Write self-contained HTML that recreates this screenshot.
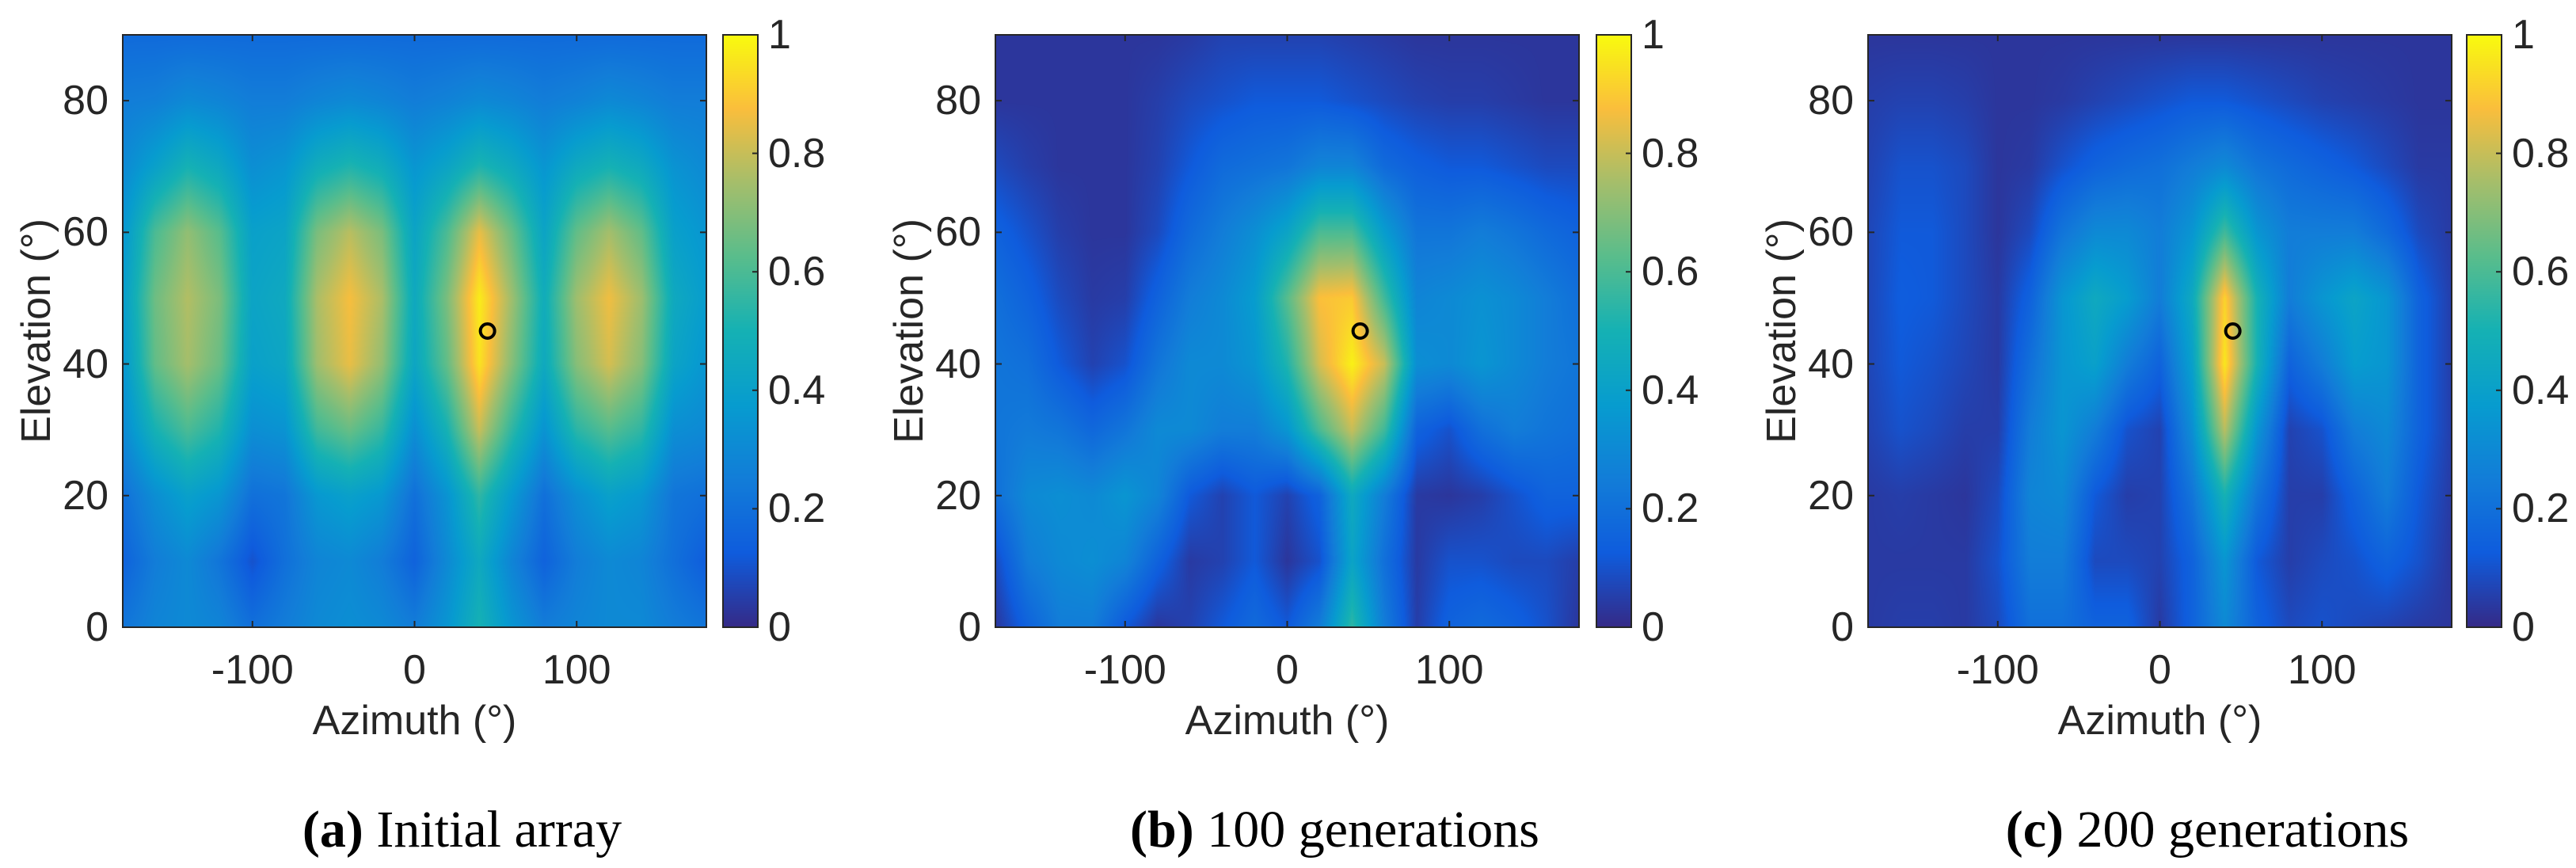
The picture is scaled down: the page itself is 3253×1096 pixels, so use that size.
<!DOCTYPE html>
<html><head><meta charset="utf-8">
<style>
html,body{margin:0;padding:0;background:#fff;}
#root{position:relative;width:3253px;height:1096px;overflow:hidden;background:#fff;}
canvas{position:absolute;}
.t{position:absolute;font-family:"Liberation Sans",sans-serif;font-size:52px;color:#262626;white-space:nowrap;line-height:1;}
.cap{position:absolute;font-family:"Liberation Serif",serif;font-size:66px;color:#000;white-space:nowrap;line-height:1;}
svg{position:absolute;left:0;top:0;}
</style></head>
<body>
<div id="root">
<svg id="ov" width="3253" height="1096"></svg>
</div>
<script>
const azCats=[-180,-160,-140,-120,-100,-80,-60,-40,-20,0,20,40,60,80,100,120,140,160,180];
const elCats=[90,80,70,60,50,40,30,20,10,0];
const xTicks=[-100,0,100];
const yTicks=[0,20,40,60,80];
const cTicks=[0,0.2,0.4,0.6,0.8,1];
const cTickLabels=["0","0.2","0.4","0.6","0.8","1"];
const targetAz=45, targetEl=45;
const gridA=[
[.18,.18,.18,.18,.18,.18,.18,.18,.18,.18,.18,.18,.18,.18,.18,.18,.18,.18,.18],
[.25,.26,.3,.28,.25,.25,.28,.3,.28,.25,.27,.3,.28,.25,.27,.3,.28,.25,.25],
[.3,.4,.5,.44,.32,.35,.47,.52,.47,.35,.42,.52,.45,.35,.45,.5,.45,.34,.3],
[.35,.6,.72,.62,.4,.42,.68,.78,.68,.42,.6,.85,.65,.42,.64,.75,.64,.4,.35],
[.38,.66,.77,.68,.42,.45,.76,.87,.76,.45,.68,.97,.74,.47,.74,.86,.74,.45,.38],
[.35,.64,.75,.65,.4,.43,.74,.85,.72,.43,.64,.95,.7,.45,.7,.82,.7,.42,.35],
[.3,.5,.6,.52,.32,.34,.58,.65,.56,.32,.5,.8,.55,.34,.54,.62,.55,.32,.3],
[.2,.32,.4,.35,.2,.22,.36,.4,.36,.2,.34,.55,.37,.2,.32,.4,.36,.22,.2],
[.15,.25,.3,.22,.1,.2,.28,.3,.25,.15,.3,.45,.28,.15,.25,.3,.28,.2,.13],
[.22,.28,.3,.28,.2,.25,.3,.32,.3,.25,.35,.5,.35,.25,.28,.3,.3,.25,.22]];
const gridB=[
[.03,.03,.03,.03,.03,.03,.04,.06,.06,.06,.06,.05,.04,.03,.03,.03,.03,.03,.03],
[.03,.03,.03,.03,.03,.05,.08,.1,.12,.12,.12,.1,.08,.06,.05,.05,.04,.03,.03],
[.08,.05,.03,.03,.03,.06,.12,.18,.2,.22,.28,.28,.18,.14,.12,.12,.1,.08,.08],
[.15,.1,.05,.03,.03,.08,.18,.25,.32,.42,.6,.6,.38,.22,.22,.25,.22,.18,.15],
[.2,.15,.08,.04,.05,.15,.25,.3,.38,.62,.88,.9,.58,.28,.3,.33,.3,.25,.2],
[.22,.2,.12,.06,.1,.22,.3,.3,.35,.52,.82,.98,.8,.32,.3,.35,.3,.25,.22],
[.22,.24,.22,.17,.22,.3,.3,.25,.25,.35,.6,.8,.58,.15,.1,.2,.25,.22,.2],
[.2,.3,.32,.3,.35,.28,.12,.06,.12,.06,.15,.45,.25,.04,.03,.05,.1,.15,.15],
[.08,.25,.3,.32,.28,.15,.04,.06,.12,.03,.1,.42,.2,.04,.1,.1,.08,.08,.05],
[.03,.15,.25,.25,.12,.03,.06,.12,.18,.12,.25,.55,.25,.05,.15,.18,.15,.1,.03]];
const gridC=[
[.03,.03,.03,.03,.03,.03,.03,.03,.03,.03,.03,.03,.03,.03,.03,.03,.03,.03,.03],
[.05,.06,.06,.05,.03,.03,.04,.06,.08,.1,.12,.12,.1,.08,.06,.05,.04,.03,.03],
[.06,.1,.1,.08,.03,.04,.1,.15,.18,.2,.25,.3,.22,.18,.15,.12,.08,.04,.04],
[.07,.12,.12,.08,.03,.08,.22,.3,.3,.25,.35,.58,.35,.25,.25,.25,.18,.08,.04],
[.07,.13,.12,.08,.04,.15,.35,.45,.38,.25,.45,.92,.5,.25,.35,.42,.35,.15,.05],
[.07,.12,.1,.07,.04,.2,.35,.4,.25,.15,.4,.96,.5,.15,.25,.38,.35,.15,.05],
[.06,.1,.08,.05,.05,.25,.35,.25,.1,.06,.32,.78,.35,.06,.1,.25,.3,.15,.05],
[.04,.05,.04,.03,.08,.28,.3,.12,.05,.06,.22,.5,.22,.05,.05,.15,.25,.12,.04],
[.04,.04,.04,.04,.1,.25,.25,.08,.08,.06,.15,.35,.12,.05,.08,.1,.15,.1,.03],
[.04,.05,.05,.04,.08,.2,.2,.15,.15,.04,.15,.3,.15,.08,.1,.08,.06,.04,.03]];
const captionsBold=["(a)","(b)","(c)"];
const captionsText=["Initial array","100 generations","200 generations"];

const panels=[{px:155,cb:913,grid:gridA},{px:1257,cb:2016,grid:gridB},{px:2359,cb:3115,grid:gridC}];
const PW=737,TOP=44,BOT=792,PH=BOT-TOP,CBW=44;
const stops=[[0,53,42,135],[0.125,15,92,221],[0.25,18,125,216],[0.375,7,156,207],[0.5,21,177,180],[0.625,89,189,140],[0.75,165,190,107],[0.875,250,190,60],[1,249,251,14]];
function cmap(v){v=Math.max(0,Math.min(1,v));for(let i=1;i<stops.length;i++){if(v<=stops[i][0]){const a=stops[i-1],b=stops[i],t=(v-a[0])/(b[0]-a[0]);return [a[1]+t*(b[1]-a[1]),a[2]+t*(b[2]-a[2]),a[3]+t*(b[3]-a[3])];}}return [249,251,14];}
const root=document.getElementById('root');
const ov=document.getElementById('ov');
const NS='http://www.w3.org/2000/svg';
function sv(tag,attrs){const e=document.createElementNS(NS,tag);for(const k in attrs)e.setAttribute(k,attrs[k]);ov.appendChild(e);return e;}
function txt(cls,s,x,y,tf){const d=document.createElement('div');d.className=cls;d.textContent=s;d.style.left=x+'px';d.style.top=y+'px';d.style.transform=tf;root.appendChild(d);return d;}
function sample(g,az,el){
  const fx=(az-azCats[0])/(azCats[azCats.length-1]-azCats[0])*(azCats.length-1);
  const fy=(elCats[0]-el)/(elCats[0]-elCats[elCats.length-1])*(elCats.length-1);
  const x0=Math.min(Math.floor(fx),azCats.length-2),y0=Math.min(Math.floor(fy),elCats.length-2);
  const sx=fx-x0,sy=fy-y0;
  const a=g[y0][x0],b=g[y0][x0+1],c=g[y0+1][x0],d=g[y0+1][x0+1];
  return (a*(1-sx)+b*sx)*(1-sy)+(c*(1-sx)+d*sx)*sy;
}
panels.forEach((p,i)=>{
  const xs=az=>p.px+(az+180)/360*PW;
  const ys=el=>BOT-el/90*PH;
  const cv=document.createElement('canvas');cv.width=PW;cv.height=PH;cv.style.left=p.px+'px';cv.style.top=TOP+'px';
  
  
  root.insertBefore(cv,ov);
  const ctx=cv.getContext('2d');const im=ctx.createImageData(PW,PH);
  for(let y=0;y<PH;y++){const el=90-(y+0.5)/PH*90;for(let x=0;x<PW;x++){const az=-180+(x+0.5)/PW*360;const c=cmap(sample(p.grid,az,el));const k=(y*PW+x)*4;im.data[k]=c[0];im.data[k+1]=c[1];im.data[k+2]=c[2];im.data[k+3]=255;}}
  ctx.putImageData(im,0,0);
  const cb=document.createElement('canvas');cb.width=1;cb.height=PH;cb.style.left=p.cb+'px';cb.style.top=TOP+'px';cb.style.width=CBW+'px';cb.style.height=PH+'px';
  
  
  root.insertBefore(cb,ov);
  const c2=cb.getContext('2d');const im2=c2.createImageData(1,PH);
  for(let y=0;y<PH;y++){const c=cmap(1-(y+0.5)/PH);im2.data[y*4]=c[0];im2.data[y*4+1]=c[1];im2.data[y*4+2]=c[2];im2.data[y*4+3]=255;}
  c2.putImageData(im2,0,0);
  const fr=sv('rect',{x:p.px,y:TOP,width:PW,height:PH,fill:'none',stroke:'#262626','stroke-width':2});
  
  
  const cf=sv('rect',{x:p.cb,y:TOP,width:CBW,height:PH,fill:'none',stroke:'#262626','stroke-width':2});
  
  
  xTicks.forEach(v=>{const x=xs(v);sv('line',{x1:x,y1:BOT,x2:x,y2:BOT-8,stroke:'#262626','stroke-width':2});sv('line',{x1:x,y1:TOP,x2:x,y2:TOP+8,stroke:'#262626','stroke-width':2});
    const t=txt('t',String(v),x,820,'translateX(-50%)');});
  yTicks.forEach(v=>{const y=ys(v);sv('line',{x1:p.px,y1:y,x2:p.px+8,y2:y,stroke:'#262626','stroke-width':2});sv('line',{x1:p.px+PW,y1:y,x2:p.px+PW-8,y2:y,stroke:'#262626','stroke-width':2});
    const t=txt('t',String(v),p.px-18,y,'translate(-100%,-50%)');});
  cTicks.forEach((v,j)=>{const y=BOT-v*PH;sv('line',{x1:p.cb+CBW,y1:y,x2:p.cb+CBW-7,y2:y,stroke:'#262626','stroke-width':2});
    const t=txt('t',cTickLabels[j],p.cb+CBW+13,y,'translateY(-50%)');});
  const xl=txt('t','Azimuth (°)',p.px+PW/2,910,'translate(-50%,-50%)');xl.style.fontSize='52px';
  
  
  const yl=txt('t','Elevation (°)',p.px-109,TOP+PH/2,'translate(-50%,-50%) rotate(-90deg)');yl.style.fontSize='52px';
  
  
  const m=sv('circle',{cx:xs(targetAz),cy:ys(targetEl),r:9,fill:'none',stroke:'#000','stroke-width':4});
  
  
  const cap=document.createElement('div');cap.className='cap';
  cap.innerHTML='<b>'+captionsBold[i]+'</b> '+captionsText[i];
  cap.style.left=(p.px+PW/2+60)+'px';cap.style.top='1015px';cap.style.transform='translateX(-50%)';
  
  
  root.appendChild(cap);
});
</script>
</body></html>
